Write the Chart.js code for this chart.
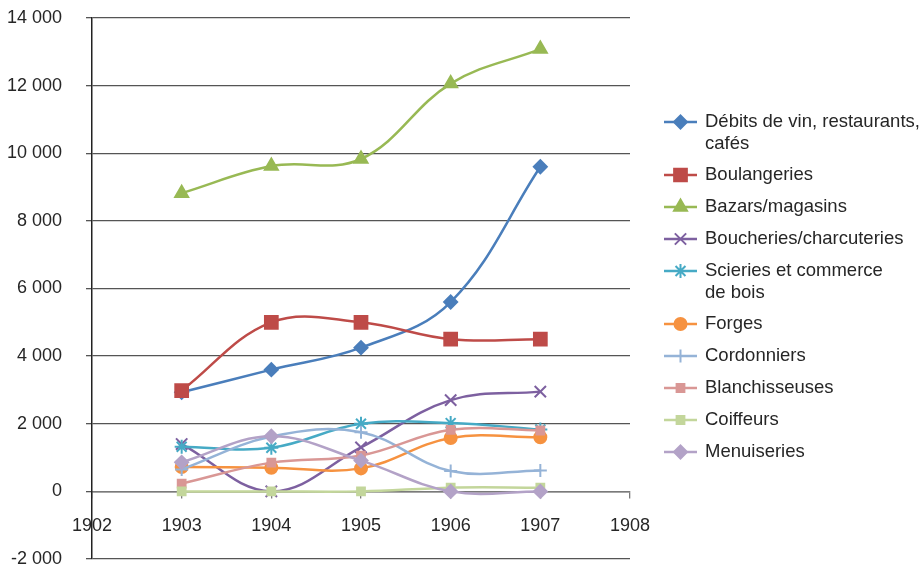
<!DOCTYPE html>
<html>
<head>
<meta charset="utf-8">
<script src="https://cdn.jsdelivr.net/npm/chart.js@4/dist/chart.umd.min.js"></script>
<style>
  html, body { margin: 0; padding: 0; background: #fff; }
  #wrap { width: 924px; height: 570px; position: relative; }
</style>
</head>
<body>
<div id="wrap"><canvas id="chart" width="924" height="570"></canvas></div>
<script>
const years = [1903, 1904, 1905, 1906, 1907];

const seriesNames = [
  ['Débits de vin, restaurants,', 'cafés'],
  ['Boulangeries'],
  ['Bazars/magasins'],
  ['Boucheries/charcuteries'],
  ['Scieries et commerce', 'de bois'],
  ['Forges'],
  ['Cordonniers'],
  ['Blanchisseuses'],
  ['Coiffeurs'],
  ['Menuiseries']
];

const debits = [2930, 3600, 4250, 5600, 9600];
const boulangeries = [2980, 5000, 5000, 4500, 4500];
const bazars = [8820, 9620, 9830, 12060, 13080];
const boucheries = [1400, 0, 1300, 2700, 2950];
const scieries = [1320, 1290, 2000, 2020, 1830];
const forges = [720, 700, 680, 1580, 1600];
const cordonniers = [650, 1620, 1750, 600, 620];
const blanchisseuses = [230, 850, 1060, 1820, 1800];
const coiffeurs = [0, 0, 0, 110, 110];
const menuiseries = [860, 1630, 910, 0, 0];

const yTicks = [-2000, 0, 2000, 4000, 6000, 8000, 10000, 12000, 14000];

const seriesValues = [debits, boulangeries, bazars, boucheries, scieries,
  forges, cordonniers, blanchisseuses, coiffeurs, menuiseries];

const colors = ['#4a7ebb', '#be4b48', '#98b954', '#7d60a0', '#46aac5',
  '#f69240', '#95b3d7', '#d99795', '#c3d69b', '#b3a2c7'];
const styles = ['rectRot', 'rect', 'triangle', 'crossRot', 'star',
  'circle', 'cross', 'rect', 'rect', 'rectRot'];
const radii = [6.5, 9, 7.5, 8, 7, 6, 6.5, 5.5, 5.5, 6.5];

function formatThousands(value) {
  const sign = value < 0 ? '-' : '';
  return sign + String(Math.abs(value)).replace(/\B(?=(\d{3})+(?!\d))/g, ' ');
}

const TEXT = '#262626';
const FONT = 'Liberation Sans, Arial, sans-serif';

const datasets = seriesValues.map((values, i) => ({
  label: seriesNames[i].join(' '),
  data: values.map((v, j) => ({ x: years[j], y: v })),
  borderColor: colors[i],
  backgroundColor: colors[i],
  borderWidth: 2.5,
  pointStyle: styles[i],
  pointRadius: radii[i],
  pointBorderWidth: 2,
  pointBorderColor: colors[i],
  pointBackgroundColor: colors[i],
  tension: 0.38,
  order: seriesValues.length - i
}));

// Legend drawn on the right, with wrapped names like the original.
const sideLegend = {
  id: 'sideLegend',
  afterDraw(chart) {
    const ctx = chart.ctx;
    ctx.save();
    ctx.font = '18.5px ' + FONT;
    ctx.fillStyle = TEXT;
    ctx.textBaseline = 'middle';
    let y = 122;
    seriesNames.forEach((lines, i) => {
      ctx.strokeStyle = colors[i];
      ctx.lineWidth = 2.5;
      ctx.beginPath();
      ctx.moveTo(664, y);
      ctx.lineTo(697, y);
      ctx.stroke();
      ctx.fillStyle = colors[i];
      ctx.lineWidth = 2;
      Chart.helpers.drawPoint(ctx, { pointStyle: styles[i], radius: radii[i], rotation: 0, borderWidth: 2 }, 680.5, y);
      ctx.fillStyle = TEXT;
      lines.forEach((line, k) => ctx.fillText(line, 705, y + k * 22));
      y += 32 + 21 * (lines.length - 1);
    });
    ctx.restore();
  }
};

new Chart(document.getElementById('chart'), {
  type: 'line',
  data: { datasets },
  options: {
    responsive: false,
    animation: false,
    layout: { padding: { left: 0, top: 18, right: 294, bottom: 10 } },
    plugins: { legend: { display: false }, tooltip: { enabled: false } },
    scales: {
      x: {
        type: 'linear',
        position: { y: 0 },
        min: 1902,
        max: 1908,
        afterFit: scale => { scale.height = 0; },
        ticks: {
          stepSize: 1,
          padding: 18,
          color: TEXT,
          font: { family: FONT, size: 18 },
          callback: v => String(v)
        },
        grid: { drawOnChartArea: false, tickLength: 6, color: '#7a7a7a', lineWidth: 1.3 },
        border: { color: '#7a7a7a', width: 1.5 }
      },
      y: {
        min: -2000,
        max: 14000,
        afterBuildTicks: scale => { scale.ticks = yTicks.map(v => ({ value: v })); },
        afterFit: scale => {
          scale.width = 92;
          scale.paddingTop = 0;
          scale.paddingBottom = 0;
        },
        ticks: {
          padding: 24,
          color: TEXT,
          font: { family: FONT, size: 18 },
          callback: v => formatThousands(v)
        },
        grid: { color: '#555', lineWidth: 1.3, tickLength: 6 },
        border: { color: '#222', width: 1.5 }
      }
    }
  },
  plugins: [sideLegend]
});
</script>
</body>
</html>
